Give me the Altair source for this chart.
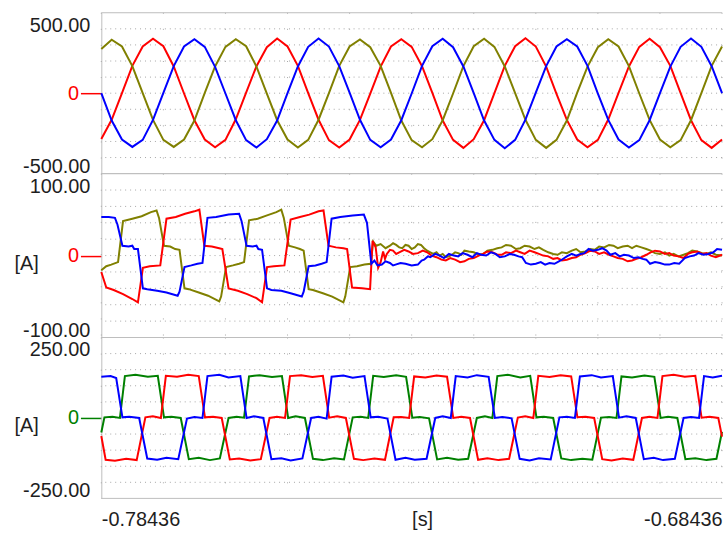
import altair as alt
import pandas as pd

# ---------------- axis / label data ----------------
T0 = -0.78436                      # start of the time window [s]
T_END = T0 + 0.1                   # end of the time window [s]
x_tick_labels = ["-0.78436", "-0.68436"]
x_grid_ms = [0, 10, 20, 30, 40, 50, 60, 70, 80, 90, 100]

p1_limits = [-500, 500]
p1_limit_labels = ["-500.00", "500.00"]
p1_grid = [-400, -300, -200, -100, 0, 100, 200, 300, 400]

p2_limits = [-100, 100]
p2_limit_labels = ["-100.00", "100.00"]
p2_grid = [-80, -60, -40, -20, 0, 20, 40, 60, 80]

p3_limits = [-250, 250]
p3_limit_labels = ["-250.00", "250.00"]
p3_grid = [-200, -150, -100, -50, 0, 50, 100, 150, 200]

# ---------------- panel 1: voltages (time in ms after T0) ----------------
p1_ms = [0, 1.67, 3.33, 5.0, 6.67, 8.33, 10.0, 11.67, 13.33, 15.0, 16.67, 18.33,
         20.0, 21.67, 23.33, 25.0, 26.67, 28.33, 30.0, 31.67, 33.33, 35.0, 36.67, 38.33,
         40.0, 41.67, 43.33, 45.0, 46.67, 48.33, 50.0, 51.67, 53.33, 55.0, 56.67, 58.33,
         60.0, 61.67, 63.33, 65.0, 66.67, 68.33, 70.0, 71.67, 73.33, 75.0, 76.67, 78.33,
         80.0, 81.67, 83.33, 85.0, 86.67, 88.33, 90.0, 91.67, 93.33, 95.0, 96.67, 98.33,
         100.0]
p1_red = [-285, -165, 0, 170, 290, 338, 292, 166, -2, -168, -288, -336,
          -290, -162, 4, 168, 286, 340, 290, 170, 0, -165, -292, -338,
          -288, -166, -3, 165, 290, 336, 288, 168, 2, -170, -290, -340,
          -286, -168, 0, 170, 292, 342, 290, 165, -4, -166, -288, -336,
          -290, -164, 2, 166, 288, 338, 286, 170, 0, -168, -292, -340,
          -288]
p1_blue = [0, -170, -288, -334, -290, -166, 2, 168, 290, 336, 288, 164,
           -2, -168, -292, -338, -286, -170, 0, 166, 288, 340, 290, 168,
           3, -165, -290, -336, -288, -168, -2, 170, 292, 338, 286, 166,
           0, -170, -290, -342, -290, -164, 4, 168, 290, 336, 290, 170,
           -3, -166, -288, -338, -292, -168, 0, 165, 288, 340, 288, 168,
           0]
p1_olive = [275, 332, 290, 168, 0, -166, -290, -334, -288, -170, 2, 166,
            288, 336, 292, 165, -3, -168, -288, -338, -290, -165, 0, 170,
            290, 334, 286, 170, 2, -170, -292, -336, -286, -168, -2, 168,
            292, 338, 288, 166, 0, -165, -290, -340, -290, -170, 3, 165,
            286, 336, 290, 168, -2, -166, -288, -336, -292, -168, 0, 170,
            290]

# ---------------- panel 2: currents (ms after T0, A) ----------------
p2_blue = [(0, 47), (1.2, 47), (2.2, 46), (2.6, 38), (3.4, 12), (4.4, 11), (5.0, 12), (5.3, 8),
           (5.9, 8), (6.7, -40), (7.4, -41), (9.0, -43), (10.5, -45), (12.3, -49), (12.6, -44),
           (13.4, -14), (14.5, -12), (15.5, -10), (16.3, -9), (17.1, 46), (18.5, 47), (20.5, 50),
           (22.2, 51), (22.6, 42), (23.4, 12), (24.4, 11), (25.0, 12), (25.3, 8), (25.9, 7),
           (26.7, -40), (27.4, -42), (29.0, -43), (30.5, -46), (32.3, -50), (32.6, -44),
           (33.4, -13), (34.5, -12), (35.5, -10), (36.3, -8), (37.1, 45), (38.5, 47), (40.5, 49),
           (42.3, 50), (42.8, 40), (43.5, -10), (44.0, -6), (44.5, -12), (45.2, -11), (45.8, -7),
           (46.5, -9), (47.0, -12), (47.4, -11), (48.2, -9), (49.0, -10), (50.0, -12), (51.0, -11),
           (51.6, -6), (52.0, -5), (52.6, -1), (53.0, -2), (53.8, 2), (54.5, 0), (55.2, -3),
           (56.0, 2), (56.8, 0), (57.5, -1), (58.2, 3), (59.0, 1), (59.8, -2), (60.5, 3),
           (61.2, 1), (62.0, 0), (62.8, 4), (63.5, 2), (64.2, -2), (65.0, -1), (65.8, 2),
           (66.5, 1), (67.2, -1), (67.8, -2), (68.4, -9), (69.2, -11), (70.0, -10), (70.8, -8),
           (71.5, -11), (72.2, -9), (73.0, -10), (73.5, -8), (74.0, -6), (74.6, -3), (75.0, -1),
           (75.8, 2), (76.5, 0), (77.2, 2), (77.8, 3), (78.5, 8), (79.2, 6), (80.0, 7), (80.7, 9),
           (81.4, 6), (82.0, 1), (82.8, 3), (83.5, -1), (84.2, 1), (85.0, 0), (85.8, -3),
           (86.5, -2), (87.2, -4), (87.8, -5), (88.4, -10), (89.2, -8), (90.0, -9), (90.8, -11),
           (91.5, -11), (92.3, -9), (93.1, -10), (94.0, -3), (94.8, -1), (95.5, 0), (96.2, 3),
           (97.0, 1), (97.8, 2), (98.6, 4), (99.2, 8), (100, 7)]
p2_olive = [(0, -18), (0.8, -13), (1.6, -11), (2.7, -8), (3.5, 42), (5.0, 45), (6.5, 48), (8.0, 53),
            (8.9, 55), (9.3, 46), (10.1, 12), (11.1, 11), (11.9, 8), (12.6, 7), (13.4, -40),
            (14.1, -41), (15.7, -45), (17.2, -49), (19.0, -56), (19.3, -50), (20.1, -14),
            (21.2, -12), (22.2, -10), (23.0, -8), (23.8, 43), (25.2, 45), (26.7, 49), (28.2, 53),
            (29.0, 56), (29.4, 46), (30.2, 12), (31.2, 10), (32.0, 8), (32.6, 6), (33.4, -41),
            (34.1, -42), (35.7, -46), (37.2, -50), (39.0, -57), (39.3, -50), (40.1, -14),
            (41.2, -13), (42.4, -11), (43.4, -10), (43.8, 17), (44.3, 12), (45.0, 14), (45.8, 9),
            (46.5, 12), (47.0, 15), (47.5, 13), (48.0, 10), (48.5, 9), (49.0, 13), (49.5, 12),
            (50.0, 8), (50.5, 10), (51.0, 14), (51.5, 13), (52.0, 9), (52.5, 6), (53.0, 4),
            (53.5, 2), (54.0, 4), (54.5, 0), (55.0, 2), (55.5, -2), (56.0, -1), (56.5, 1),
            (57.0, 4), (57.5, 3), (58.0, 1), (58.5, 6), (59.2, 5), (60.0, 4), (60.8, 1),
            (61.5, 2), (62.2, 6), (63.0, 7), (63.8, 9), (64.5, 10), (65.2, 13), (66.0, 12),
            (66.8, 8), (67.5, 9), (68.2, 12), (69.0, 11), (69.8, 8), (70.5, 10), (71.2, 7),
            (72.0, 4), (72.8, 2), (73.5, 1), (74.2, 4), (75.0, 3), (75.8, 6), (76.5, 8),
            (77.2, 4), (78.0, 5), (78.8, 8), (79.5, 7), (80.2, 11), (81.0, 10), (81.8, 13),
            (82.5, 12), (83.2, 9), (84.0, 11), (84.8, 12), (85.5, 9), (86.2, 12), (87.0, 10),
            (87.8, 8), (88.5, 6), (89.2, 3), (90.0, 2), (90.8, 4), (91.5, 0), (92.2, 2),
            (93.0, -1), (93.8, 1), (94.5, 3), (95.2, 6), (96.0, 5), (96.8, 3), (97.5, 2),
            (98.2, 4), (99.0, 1), (100, 0)]
p2_red = [(0, -20), (0.8, -39), (2.0, -42), (3.5, -47), (5.0, -53), (5.9, -57), (6.7, -15),
          (7.8, -13), (9.5, -12), (10.5, 45), (12.0, 47), (13.5, 51), (15.0, 54), (15.8, 56),
          (16.6, 12), (17.8, 11), (19.0, 9), (19.5, 8), (20.5, -40), (22.0, -43), (23.5, -47),
          (25.0, -52), (25.9, -57), (26.7, -14), (27.8, -13), (29.5, -12), (30.5, 44), (32.0, 47),
          (33.5, 50), (35.0, 54), (35.8, 55), (36.6, 12), (37.8, 10), (39.0, 9), (39.6, 8),
          (40.4, -39), (42.0, -40), (43.3, -41), (43.7, 18), (44.2, 10), (44.6, -15), (45.0, -8),
          (45.4, 5), (45.7, -4), (46.0, 2), (46.5, 7), (47.0, 6), (47.5, 2), (48.0, 4), (48.8, 7),
          (49.5, 5), (50.2, 2), (51.0, 3), (51.8, 6), (52.5, 4), (53.2, 0), (54.0, -2), (54.8, -5),
          (55.5, -6), (56.2, -3), (57.0, -5), (57.8, -8), (58.5, -7), (59.2, -4), (60.0, -3),
          (60.8, 0), (61.5, 2), (62.2, 5), (63.0, 4), (63.8, 1), (64.5, 1), (65.2, 4), (66.0, 3),
          (66.8, 6), (67.5, 4), (68.2, 2), (69.0, 6), (69.8, 4), (70.5, 2), (71.2, 0), (72.0, -1),
          (72.8, -4), (73.5, -3), (74.2, -6), (75.0, -5), (75.8, -3), (76.5, -2), (77.2, 1),
          (78.0, 3), (78.8, 6), (79.5, 5), (80.2, 2), (81.0, 4), (81.8, 1), (82.5, -1), (83.2, -3),
          (84.0, -4), (84.8, -7), (85.5, -6), (86.2, -4), (87.0, -2), (87.8, 1), (88.5, 4),
          (89.2, 6), (90.0, 5), (90.8, 2), (91.5, 3), (92.2, 0), (93.0, -1), (93.8, -3), (94.5, 2),
          (95.2, 4), (96.0, 5), (96.8, 2), (97.5, 3), (98.2, 0), (99.0, -2), (100, 1)]

# ---------------- panel 3: currents (ms after T0, A) ----------------
p3_blue = [(0, 128), (1.5, 130), (2.4, 124), (3.4, 2), (4.5, 4), (6.1, 0), (7.4, -126), (9.0, -130),
           (10.5, -124), (12.4, -128), (13.8, -2), (15.0, 3), (16.3, 0), (17.1, 130), (19.0, 134),
           (20.5, 126), (22.4, 130), (23.4, 0), (24.6, 5), (26.1, 0), (27.4, -128), (29.0, -125),
           (30.5, -132), (32.4, -126), (33.8, 0), (35.0, 4), (36.3, -2), (37.1, 128), (39.0, 132),
           (40.5, 125), (42.4, 130), (43.4, 2), (44.6, 4), (46.1, -2), (47.4, -130), (49.0, -124),
           (50.5, -130), (52.4, -127), (53.8, 0), (55.0, 5), (56.3, 0), (57.1, 130), (59.0, 126),
           (60.5, 133), (62.4, 128), (63.4, 0), (64.6, 3), (66.1, -1), (67.4, -127), (69.0, -132),
           (70.5, -125), (72.4, -129), (73.8, 2), (75.0, 4), (76.3, 0), (77.1, 129), (79.0, 133),
           (80.5, 126), (82.4, 130), (83.4, 1), (84.6, 5), (86.1, 0), (87.4, -128), (89.0, -124),
           (90.5, -131), (92.4, -127), (93.8, 0), (95.0, 3), (96.3, 0), (97.1, 130), (98.5, 126),
           (100, 131)]
p3_green = [(0, -45), (0.5, 2), (1.8, 4), (3.0, 0), (3.8, 130), (5.5, 134), (7.5, 128), (9.1, 131),
            (10.1, 2), (11.3, 4), (12.8, 0), (14.1, -128), (15.7, -124), (17.5, -131), (19.1, -126),
            (20.5, 0), (21.8, 4), (23.0, 1), (23.8, 129), (25.5, 133), (27.5, 127), (29.1, 130),
            (30.1, 0), (31.3, 5), (32.8, 0), (34.1, -127), (35.7, -131), (37.5, -125), (39.1, -129),
            (40.5, 2), (41.8, 4), (43.0, 0), (43.8, 131), (45.5, 127), (47.5, 133), (49.1, 128),
            (50.1, 1), (51.3, 3), (52.8, -1), (54.1, -129), (55.7, -124), (57.5, -130), (59.1, -127),
            (60.5, 0), (61.8, 5), (63.0, 0), (63.8, 130), (65.5, 134), (67.5, 126), (69.1, 131),
            (70.1, 2), (71.3, 4), (72.8, 0), (74.1, -126), (75.7, -131), (77.5, -127), (79.1, -130),
            (80.5, 1), (81.8, 3), (83.0, 0), (83.8, 129), (85.5, 126), (87.5, 132), (89.1, 128),
            (90.1, 0), (91.3, 4), (92.8, 0), (94.1, -128), (95.7, -125), (97.5, -131), (99.1, -127),
            (100, -43)]
p3_red = [(0, -56), (0.7, -130), (2.2, -133), (4.0, -127), (5.7, -131), (7.1, 2), (8.3, 5), (9.6, 0),
          (10.4, 131), (12.2, 128), (14.0, 134), (15.7, 130), (16.7, 2), (18.0, 4), (19.4, 0),
          (20.7, -129), (22.2, -126), (24.0, -132), (25.7, -128), (27.1, 0), (28.3, 4), (29.6, 0),
          (30.4, 130), (32.2, 133), (34.0, 127), (35.7, 131), (36.7, 1), (38.0, 5), (39.4, 0),
          (40.7, -127), (42.2, -131), (44.0, -126), (45.7, -130), (47.1, 2), (48.3, 3), (49.6, 0),
          (50.4, 129), (52.2, 126), (54.0, 132), (55.7, 128), (56.7, 0), (58.0, 4), (59.4, 0),
          (60.7, -130), (62.2, -125), (64.0, -131), (65.7, -127), (67.1, 1), (68.3, 5), (69.6, 0),
          (70.4, 131), (72.2, 127), (74.0, 133), (75.7, 129), (76.7, 2), (78.0, 4), (79.4, 0),
          (80.7, -128), (82.2, -132), (84.0, -126), (85.7, -130), (87.1, 0), (88.3, 4), (89.6, 0),
          (90.4, 130), (92.2, 134), (94.0, 128), (95.7, 131), (96.7, 1), (98.0, 4), (99.4, 0),
          (100, -58)]

# ---------------- styling ----------------
FONT = "Liberation Sans"
TXT = "#1e1e1e"
GRID = "#a6a6a6"
FRAME = "#bdbdbd"
SERIES = ["red", "olive", "blue", "green"]
SERIES_COLORS = ["#ff0000", "#808000", "#0000ff", "#008000"]
PLOT_W = 625


def to_frame(series):
    rows = []
    for name, pts in series:
        for ms, v in pts:
            rows.append({"t": T0 + ms / 1000.0, "v": v, "s": name})
    return pd.DataFrame(rows)


def panel(df, limits, limit_labels, grid_vals, zero_color, height, unit=None, bottom=False):
    xs = alt.Scale(domain=[T0, T_END], nice=False, zero=False, padding=0)
    ys = alt.Scale(domain=limits, nice=False, zero=False, padding=0)

    y_kw = dict(values=[0], grid=False, domain=True, domainColor=FRAME, domainWidth=1,
                ticks=True, tickSize=21, tickColor=zero_color, tickWidth=1.5,
                labels=True, labelColor=zero_color, labelFont=FONT, labelFontSize=20,
                labelPadding=2, labelBaseline="middle")
    if unit:
        y_kw.update(title=unit, titleAngle=0, titleAlign="left", titleBaseline="middle",
                    titleX=-88, titleY=height / 2 + 8, titleFont=FONT, titleFontSize=20,
                    titleFontWeight="normal", titleColor=TXT)
    else:
        y_kw.update(title="")
    y_axis = alt.Axis(**y_kw)

    if bottom:
        x_axis = alt.Axis(
            values=[T0, T_END],
            labelExpr=f"datum.value < {T0 + 0.05} ? '{x_tick_labels[0]}' : '{x_tick_labels[1]}'",
            labelFlush=True, ticks=False, tickSize=0, domain=False, grid=False,
            labelPadding=11, labelFont=FONT, labelFontSize=20, labelColor=TXT,
            title="[s]", titleX=323, titleY=11, titleBaseline="top", titleAlign="center",
            titleFont=FONT, titleFontSize=20, titleFontWeight="normal", titleColor=TXT)
    else:
        x_axis = None

    hgrid = alt.Chart(pd.DataFrame({"v": grid_vals})).mark_rule(
        color=GRID, strokeDash=[1, 4], strokeWidth=1).encode(
        y=alt.Y("v:Q", scale=ys, axis=y_axis))
    vgrid = alt.Chart(pd.DataFrame({"t": [T0 + m / 1000.0 for m in x_grid_ms]})).mark_rule(
        color=GRID, strokeDash=[1, 15.2], strokeWidth=1).encode(
        x=alt.X("t:Q", scale=xs, axis=x_axis))
    frame = alt.Chart(pd.DataFrame({"v": limits})).mark_rule(
        color=FRAME, strokeWidth=1).encode(
        y=alt.Y("v:Q", scale=ys, axis=y_axis))
    lines = alt.Chart(df).mark_line(strokeWidth=2).encode(
        x=alt.X("t:Q", scale=xs, axis=x_axis),
        y=alt.Y("v:Q", scale=ys, axis=y_axis),
        color=alt.Color("s:N", scale=alt.Scale(domain=SERIES, range=SERIES_COLORS), legend=None))
    top_lab = alt.Chart(pd.DataFrame({"v": [limits[1]], "lab": [limit_labels[1]]})).mark_text(
        align="right", baseline="alphabetic", dy=19, font=FONT, fontSize=20, color=TXT).encode(
        x=alt.value(-11), y=alt.Y("v:Q", scale=ys, axis=y_axis), text="lab:N")
    bot_lab = alt.Chart(pd.DataFrame({"v": [limits[0]], "lab": [limit_labels[0]]})).mark_text(
        align="right", baseline="alphabetic", dy=-1, font=FONT, fontSize=20, color=TXT).encode(
        x=alt.value(-11), y=alt.Y("v:Q", scale=ys, axis=y_axis), text="lab:N")

    return alt.layer(hgrid, vgrid, frame, lines, top_lab, bot_lab).properties(
        width=PLOT_W, height=height)


df1 = to_frame([("red", list(zip(p1_ms, p1_red))),
                ("olive", list(zip(p1_ms, p1_olive))),
                ("blue", list(zip(p1_ms, p1_blue)))])
df2 = to_frame([("olive", p2_olive), ("red", p2_red), ("blue", p2_blue)])
df3 = to_frame([("green", p3_green), ("red", p3_red), ("blue", p3_blue)])

c1 = panel(df1, p1_limits, p1_limit_labels, p1_grid, "#ff0000", 162)
c2 = panel(df2, p2_limits, p2_limit_labels, p2_grid, "#ff0000", 165, unit="[A]")
c3 = panel(df3, p3_limits, p3_limit_labels, p3_grid, "#008000", 162, unit="[A]", bottom=True)

chart = alt.vconcat(c1, c2, c3, spacing=0, bounds="flush").properties(
    padding={"left": 13, "top": 10, "right": 0, "bottom": 0},
    background="white",
).configure_view(stroke="transparent")

chart.save("out.html", embed_options={"renderer": "svg", "actions": False})
